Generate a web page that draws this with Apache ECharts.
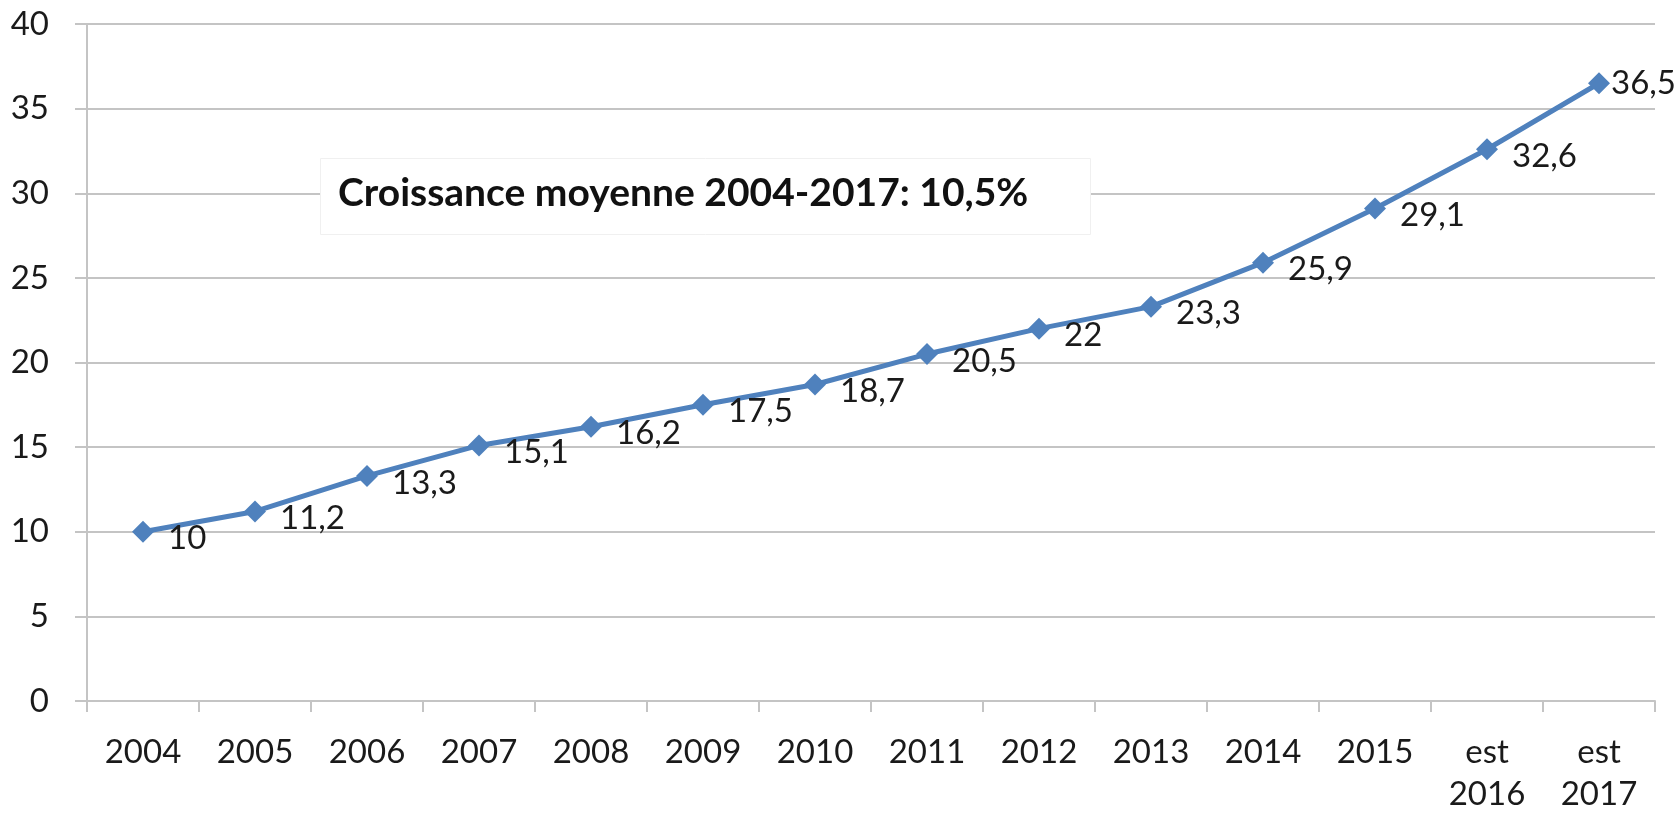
<!DOCTYPE html>
<html style="height: 100%;">
<head>
<meta charset="utf-8">
<title>Croissance moyenne</title>
<script src="https://cdn.jsdelivr.net/npm/echarts@6/dist/echarts.min.js"></script>
<style>
    html, body { margin: 0; height: 100%; background: #fff; }
    #container { width: 1675px; height: 815px; }
</style>
</head>
<body>
<div id="container"></div>
<script>
    // annees (les deux dernieres sont estimees)
    var categories = ['2004', '2005', '2006', '2007', '2008', '2009', '2010',
        '2011', '2012', '2013', '2014', '2015', 'est\n2016', 'est\n2017'];
    var values = [10, 11.2, 13.3, 15.1, 16.2, 17.5, 18.7, 20.5, 22, 23.3, 25.9, 29.1, 32.6, 36.5];
    var yTicks = [0, 5, 10, 15, 20, 25, 30, 35, 40];
    var note = 'Croissance moyenne 2004-2017: 10,5%';

    var font = 'Lato, "Open Sans", sans-serif';
    var myChart = echarts.init(document.getElementById('container'));

    // le dernier point a son etiquette collee au marqueur (sinon elle sort du cadre)
    var seriesData = values.map(function (v, i) {
        if (i === values.length - 1) {
            return { value: v, label: { distance: 1, offset: [0, 0] } };
        }
        return v;
    });

    var option = {
        animation: false,
        grid: { left: 87, right: 20, top: 24, bottom: 113, containLabel: false },
        xAxis: {
            type: 'category',
            data: categories,
            boundaryGap: true,
            axisLine: { lineStyle: { color: '#c4c4c4', width: 2 } },
            axisTick: { show: true, length: 11, lineStyle: { color: '#c4c4c4', width: 2 } },
            axisLabel: { color: '#1a1a1a', fontFamily: font, fontSize: 33, margin: 30, lineHeight: 42 }
        },
        yAxis: {
            type: 'value',
            min: yTicks[0],
            max: yTicks[yTicks.length - 1],
            interval: 5,
            axisLine: { show: true, lineStyle: { color: '#c4c4c4', width: 2 } },
            axisTick: { show: true, length: 12, lineStyle: { color: '#c4c4c4', width: 2 } },
            splitLine: { lineStyle: { color: '#c4c4c4', width: 2 } },
            axisLabel: { color: '#1a1a1a', fontFamily: font, fontSize: 33, margin: 38 }
        },
        graphic: [{
            type: 'rect',
            left: 320,
            top: 158,
            z: 100,
            shape: { width: 770, height: 76 },
            style: { fill: '#ffffff', stroke: '#f0f0f0', lineWidth: 1 }
        }, {
            type: 'text',
            left: 338,
            top: 174,
            z: 101,
            style: {
                text: note,
                fill: '#111111',
                fontFamily: font,
                fontWeight: 'bold',
                fontSize: 39
            }
        }],
        series: [{
            type: 'line',
            data: seriesData,
            symbol: 'diamond',
            symbolSize: 22,
            itemStyle: { color: '#4f81bd' },
            lineStyle: { color: '#4f81bd', width: 5 },
            label: {
                show: true,
                position: 'right',
                distance: 14,
                offset: [0, 7],
                color: '#1a1a1a',
                fontFamily: font,
                fontSize: 33,
                formatter: function (p) { return String(p.value).replace('.', ','); }
            }
        }]
    };

    myChart.setOption(option);
</script>
</body>
</html>
